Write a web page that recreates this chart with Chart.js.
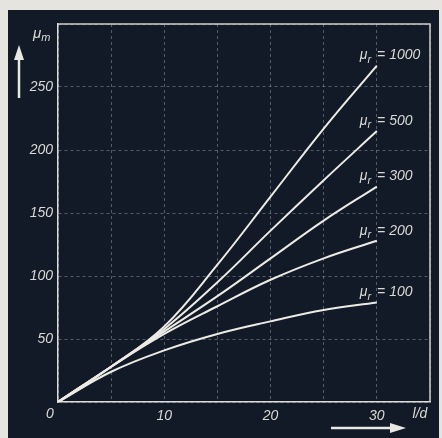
<!DOCTYPE html>
<html><head><meta charset="utf-8">
<script src="https://cdn.jsdelivr.net/npm/chart.js@4"></script>
<style>html,body{margin:0;padding:0;background:#e6e4df;}#wrap{width:442px;height:438px;}</style>
</head><body><div id="wrap"><canvas id="c" width="442" height="438"></canvas></div>
<script>
// l/d ratio (x) and apparent permeability μm (y) per μr
const ldValues = [0, 5, 10, 15, 20, 25, 30];
const mu1000 = [0, 28, 60, 109, 163, 217, 267];
const mu500  = [0, 28, 58, 95, 136, 176, 215];
const mu300  = [0, 28, 56, 84, 114, 144, 171];
const mu200  = [0, 28, 54, 76, 97, 114, 128];
const mu100  = [0, 24, 41, 54, 64, 73, 79];
const seriesValues = ['1000', '500', '300', '200', '100'];
const xTickLabels = [10, 20, 30];
const yTickLabels = [50, 100, 150, 200, 250];

const allSeries = [mu1000, mu500, mu300, mu200, mu100];
const LINE = '#ecebe6';
const TXT = '#d9d9d6';
const FONT = 'Liberation Sans';

const datasets = allSeries.map((s, i) => ({
  label: 'μr = ' + seriesValues[i],
  data: ldValues.map((x, j) => ({x: x, y: s[j]})),
  borderColor: LINE,
  borderWidth: 2,
  pointRadius: 0,
  tension: 0.4,
  fill: false
}));

function drawMu(ctx, x, y, sub, rest, size) {
  ctx.save();
  ctx.fillStyle = TXT;
  ctx.textBaseline = 'middle';
  ctx.textAlign = 'left';
  ctx.font = 'italic ' + size + 'px "' + FONT + '"';
  ctx.fillText('μ', x, y);
  let w = ctx.measureText('μ').width;
  ctx.font = 'italic ' + Math.round(size * 0.75) + 'px "' + FONT + '"';
  ctx.fillText(sub, x + w, y + 4);
  let w2 = ctx.measureText(sub).width;
  if (rest) {
    ctx.font = 'italic ' + size + 'px "' + FONT + '"';
    ctx.fillText(rest, x + w + w2 + 2, y);
  }
  ctx.restore();
}

const decor = {
  id: 'decor',
  beforeDraw(chart) {
    const ctx = chart.ctx;
    ctx.save();
    ctx.fillStyle = '#e6e4df';
    ctx.fillRect(0, 0, chart.width, chart.height);
    ctx.fillStyle = '#131a27';
    ctx.fillRect(8, 10, 431, 428);
    ctx.restore();
  },
  afterDraw(chart) {
    const ctx = chart.ctx;
    const a = chart.chartArea;
    const xs = chart.scales.x, ys = chart.scales.y;
    ctx.save();
    ctx.strokeStyle = '#d0d0cc';
    ctx.lineWidth = 1.5;
    ctx.beginPath();
    ctx.moveTo(a.left, a.top); ctx.lineTo(a.right, a.top); ctx.lineTo(a.right, a.bottom);
    ctx.stroke();
    allSeries.forEach((s, i) => {
      const px = xs.getPixelForValue(ldValues[ldValues.length - 1]) - 17;
      const py = ys.getPixelForValue(s[s.length - 1]) - 10;
      drawMu(ctx, px, py, 'r', ' = ' + seriesValues[i], 14);
    });
    ctx.fillStyle = TXT;
    ctx.font = 'italic 14px "' + FONT + '"';
    ctx.textAlign = 'center';
    ctx.textBaseline = 'middle';
    ctx.fillText('0', a.left - 8, a.bottom + 12);
    ctx.fillText('l/d', 420, 414);
    drawMu(ctx, 33, 34, 'm', '', 15);
    ctx.strokeStyle = '#e8e8e4';
    ctx.fillStyle = '#e8e8e4';
    ctx.lineWidth = 2.5;
    ctx.beginPath(); ctx.moveTo(19, 98); ctx.lineTo(19, 58); ctx.stroke();
    ctx.beginPath(); ctx.moveTo(14, 60); ctx.lineTo(24, 60); ctx.lineTo(19, 45); ctx.closePath(); ctx.fill();
    ctx.beginPath(); ctx.moveTo(331, 428); ctx.lineTo(392, 428); ctx.stroke();
    ctx.beginPath(); ctx.moveTo(390, 423); ctx.lineTo(390, 433); ctx.lineTo(406, 428); ctx.closePath(); ctx.fill();
    ctx.restore();
  }
};

new Chart(document.getElementById('c'), {
  type: 'line',
  data: { datasets: datasets },
  plugins: [decor],
  options: {
    responsive: false,
    animation: false,
    devicePixelRatio: 1,
    layout: { padding: { left: 0, right: 12, top: 24, bottom: 0 } },
    plugins: { legend: { display: false }, tooltip: { enabled: false } },
    scales: {
      x: {
        type: 'linear', min: 0, max: 35,
        afterFit(s) { s.height = 36; },
        ticks: {
          stepSize: 5, color: TXT, padding: 6, maxRotation: 0, autoSkip: false,
          font: { family: FONT, size: 14, style: 'italic' },
          callback: v => xTickLabels.includes(v) ? String(v) : ''
        },
        grid: { color: 'rgba(185,190,200,0.4)', lineWidth: 1, drawTicks: false },
        border: { display: true, color: '#dcdcd8', width: 1.5, dash: [3, 3] }
      },
      y: {
        type: 'linear', min: 0, max: 300,
        afterFit(s) { s.width = 58; },
        ticks: {
          stepSize: 50, color: TXT, padding: 5,
          font: { family: FONT, size: 14, style: 'italic' },
          callback: v => yTickLabels.includes(v) ? String(v) : ''
        },
        grid: { color: 'rgba(185,190,200,0.4)', lineWidth: 1, drawTicks: false },
        border: { display: true, color: '#dcdcd8', width: 1.5, dash: [3, 3] }
      }
    }
  }
});
</script></body></html>
